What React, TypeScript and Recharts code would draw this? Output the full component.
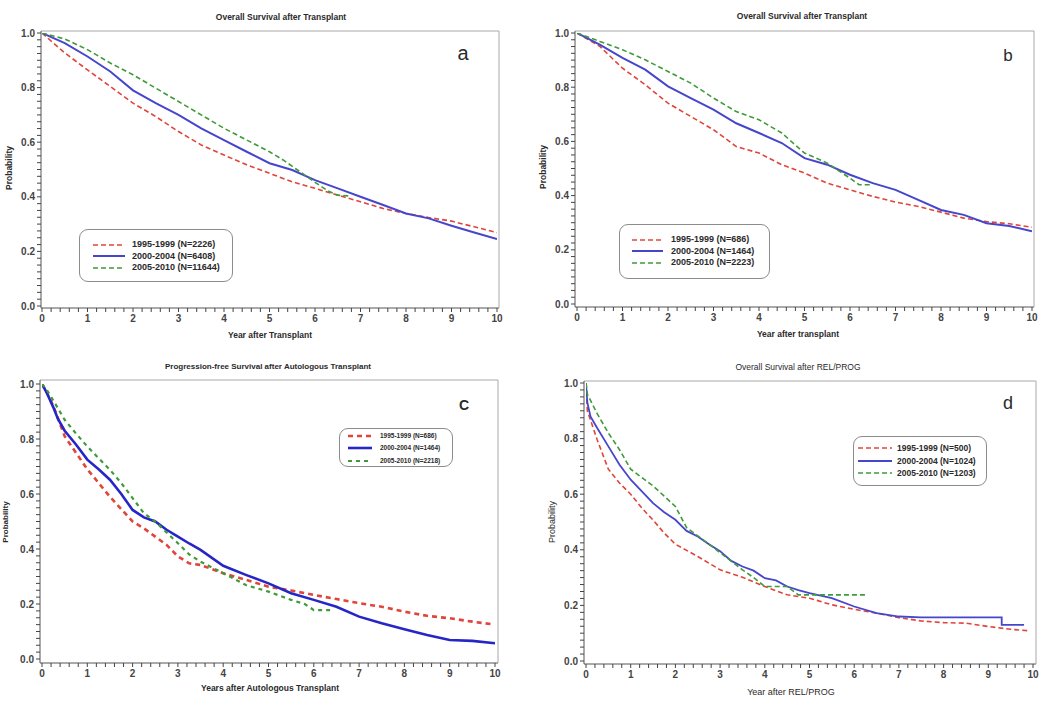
import React from 'react';
import { LineChart, Line, XAxis, YAxis, Legend } from 'recharts';

const FONT = '"Liberation Sans", Arial, Helvetica, sans-serif';

const RED = '#e0453a';
const BLUE = '#4646cc';
const BLUE_C = '#2626c8';
const GREEN = '#3f9a3a';
const TICK = 4;

// tick labels
const xMajorLabels = [0, 1, 2, 3, 4, 5, 6, 7, 8, 9, 10];
const yMajorLabels = [0, 0.2, 0.4, 0.6, 0.8, 1.0];
const xTicks = Array.from({ length: 51 }, (_, i) => Math.round(i * 2) / 10);
const yTicks = Array.from({ length: 41 }, (_, i) => Math.round(i * 25) / 1000);

// panel a
const aYears = [0, 0.5, 1, 1.5, 2, 2.5, 3, 3.5, 4, 4.5, 5, 5.5, 6, 6.5, 7, 7.5, 8, 8.5, 9, 9.5, 10];
const aRed = [1.0, 0.927, 0.865, 0.804, 0.743, 0.694, 0.639, 0.59, 0.553, 0.517, 0.486, 0.455, 0.431, 0.406, 0.382, 0.357, 0.339, 0.324, 0.311, 0.29, 0.269];
const aBlue = [1.0, 0.963, 0.914, 0.859, 0.79, 0.743, 0.7, 0.651, 0.608, 0.565, 0.523, 0.498, 0.461, 0.431, 0.4, 0.37, 0.339, 0.321, 0.294, 0.269, 0.245];
const aGreenYears = [0, 0.5, 1, 1.5, 2, 2.5, 3, 3.5, 4, 4.5, 5, 5.3, 5.6, 6, 6.3, 6.5, 6.77];
const aGreen = [1.0, 0.978, 0.939, 0.89, 0.847, 0.798, 0.749, 0.7, 0.651, 0.608, 0.565, 0.535, 0.5, 0.453, 0.42, 0.406, 0.403];

// panel b
const bYears = [0, 0.5, 1, 1.5, 2, 2.5, 3, 3.5, 4, 4.5, 5, 5.5, 6, 6.5, 7, 7.5, 8, 8.5, 9, 9.5, 10];
const bRed = [1.0, 0.951, 0.87, 0.809, 0.741, 0.692, 0.643, 0.581, 0.557, 0.514, 0.483, 0.446, 0.421, 0.397, 0.376, 0.36, 0.339, 0.317, 0.304, 0.296, 0.283];
const bBlue = [1.0, 0.957, 0.908, 0.865, 0.803, 0.76, 0.717, 0.667, 0.631, 0.594, 0.538, 0.514, 0.477, 0.446, 0.421, 0.384, 0.347, 0.329, 0.298, 0.288, 0.268];
const bGreenYears = [0, 0.5, 1, 1.5, 2, 2.5, 3, 3.5, 4, 4.5, 5, 5.5, 6, 6.2, 6.44];
const bGreen = [1.0, 0.969, 0.938, 0.901, 0.858, 0.815, 0.76, 0.71, 0.68, 0.631, 0.557, 0.52, 0.464, 0.44, 0.44];

// panel c
const cRedYears = [0, 0.1, 0.25, 0.5, 0.75, 1, 1.25, 1.5, 1.75, 2, 2.25, 2.5, 2.75, 3, 3.25, 3.5, 4, 4.5, 5, 5.5, 6, 6.5, 7, 7.5, 8, 8.5, 9, 9.5, 9.9];
const cRed = [1.0, 0.97, 0.92, 0.81, 0.75, 0.69, 0.64, 0.59, 0.545, 0.5, 0.475, 0.445, 0.415, 0.373, 0.348, 0.342, 0.312, 0.288, 0.263, 0.249, 0.233, 0.218, 0.203, 0.19, 0.172, 0.157, 0.148, 0.136, 0.127];
const cBlueYears = [0, 0.1, 0.25, 0.35, 0.5, 0.75, 1, 1.25, 1.5, 1.75, 2, 2.25, 2.5, 2.75, 3, 3.25, 3.5, 4, 4.5, 5, 5.5, 6, 6.5, 7, 7.5, 8, 8.5, 9, 9.5, 10];
const cBlue = [1.0, 0.97, 0.915, 0.874, 0.83, 0.78, 0.725, 0.69, 0.652, 0.6, 0.542, 0.515, 0.5, 0.47, 0.445, 0.42, 0.397, 0.339, 0.306, 0.275, 0.239, 0.215, 0.19, 0.154, 0.13, 0.108, 0.087, 0.069, 0.066, 0.057];
const cGreenYears = [0, 0.1, 0.25, 0.5, 0.75, 1, 1.25, 1.5, 1.75, 2, 2.25, 2.5, 2.75, 3, 3.25, 3.5, 4, 4.5, 5, 5.5, 5.8, 6, 6.4];
const cGreen = [1.0, 0.98, 0.94, 0.87, 0.82, 0.773, 0.73, 0.688, 0.64, 0.585, 0.53, 0.5, 0.46, 0.421, 0.38, 0.354, 0.312, 0.269, 0.245, 0.215, 0.2, 0.178, 0.178];

// panel d
const dRedYears = [0, 0.03, 0.25, 0.5, 0.75, 1, 1.25, 1.5, 1.75, 2, 2.5, 3, 3.5, 4, 4.5, 5, 5.5, 6, 6.5, 7, 7.5, 8, 8.5, 9, 9.5, 9.9];
const dRed = [1.0, 0.9, 0.796, 0.69, 0.64, 0.6, 0.55, 0.507, 0.46, 0.42, 0.376, 0.328, 0.301, 0.268, 0.238, 0.226, 0.202, 0.186, 0.172, 0.156, 0.144, 0.138, 0.136, 0.124, 0.114, 0.109];
const dBlueYears = [0, 0.03, 0.1, 0.25, 0.5, 0.75, 1, 1.25, 1.5, 1.75, 2, 2.25, 2.5, 2.75, 3, 3.25, 3.5, 3.75, 4, 4.25, 4.5, 4.75, 5, 5.5, 6, 6.5, 7, 7.5, 8, 8.5, 9, 9.3, 9.3, 9.8];
const dBlue = [1.0, 0.93, 0.88, 0.838, 0.772, 0.706, 0.652, 0.61, 0.568, 0.535, 0.508, 0.468, 0.448, 0.42, 0.395, 0.36, 0.34, 0.325, 0.298, 0.29, 0.268, 0.255, 0.244, 0.226, 0.196, 0.172, 0.16, 0.157, 0.157, 0.157, 0.157, 0.157, 0.13, 0.13];
const dGreenYears = [0, 0.03, 0.25, 0.5, 0.75, 1, 1.5, 2, 2.25, 2.5, 3, 3.5, 3.75, 4, 4.5, 4.75, 5, 5.5, 6, 6.25];
const dGreen = [1.0, 0.96, 0.89, 0.82, 0.76, 0.69, 0.63, 0.556, 0.48, 0.45, 0.39, 0.328, 0.3, 0.268, 0.268, 0.238, 0.238, 0.238, 0.238, 0.238];

type Series = { name: string; xs: number[]; ys: number[]; color: string; width: number; dash?: string };
type LegendSpec = { left: number; top: number; w: number; h: number; padTop: number; rowH: number; sampleLeft: number; sampleW: number; gap: number; fontSize: number };

const toPoints = (xs: number[], ys: number[]) => xs.map((x, i) => ({ x, y: ys[i] }));

// minor ticks keep their tick line but get an empty label
const fmtX = (v: number) => (xMajorLabels.includes(v) ? String(v) : '');
const fmtY = (v: number) => (yMajorLabels.some((m) => Math.abs(m - v) < 1e-6) ? v.toFixed(1) : '');
const tickStyle = { fontSize: 10, fontWeight: 'bold', fill: '#444', fontFamily: FONT };

const LegendBox = ({ spec, series }: { spec: LegendSpec; series: Series[] }) => (
  <div
    style={{
      width: spec.w,
      height: spec.h,
      boxSizing: 'border-box',
      border: '1.5px solid #8c8c8c',
      borderRadius: 9,
      background: '#fff',
      paddingTop: spec.padTop,
      fontFamily: FONT,
      fontWeight: 'bold',
      fontSize: spec.fontSize,
      color: '#2a2a2a',
    }}
  >
    {series.map((s) => (
      <div key={s.name} style={{ display: 'flex', alignItems: 'center', height: spec.rowH, paddingLeft: spec.sampleLeft }}>
        <svg width={spec.sampleW} height={6} style={{ flex: 'none' }}>
          <line x1={0} x2={spec.sampleW} y1={3} y2={3} stroke={s.color} strokeWidth={s.width} strokeDasharray={s.dash} />
        </svg>
        <span style={{ marginLeft: spec.gap, whiteSpace: 'nowrap', lineHeight: 1 }}>{s.name}</span>
      </div>
    ))}
  </div>
);

type PanelProps = {
  left: number;
  top: number;
  width: number;
  height: number;
  margin: { top: number; right: number; bottom: number; left: number };
  yAxisWidth: number;
  xAxisHeight: number;
  padX: { left: number; right: number };
  padY: { top: number; bottom: number };
  series: Series[];
  legend: LegendSpec;
};

// the frame's top and right sides are drawn by a second pair of axes 1px thick,
// so the margins passed in are already reduced by that pixel
const Panel = ({ left, top, width, height, margin, yAxisWidth, xAxisHeight, padX, padY, series, legend }: PanelProps) => (
  <div style={{ position: 'absolute', left, top, width, height }}>
    <LineChart width={width} height={height} margin={{ ...margin, top: margin.top - 1, right: margin.right - 1 }}>
      <XAxis
        dataKey="x"
        type="number"
        domain={[0, 10]}
        ticks={xTicks}
        interval={0}
        height={xAxisHeight}
        padding={padX}
        tickSize={TICK}
        tickMargin={3}
        tickLine={{ stroke: '#444' }}
        tickFormatter={fmtX}
        tick={tickStyle}
        axisLine={{ stroke: '#555' }}
        allowDataOverflow
      />
      <XAxis xAxisId="top" orientation="top" type="number" domain={[0, 10]} height={1} padding={padX} tick={false} tickLine={false} axisLine={{ stroke: '#a8a8a8' }} />
      <YAxis
        type="number"
        domain={[0, 1]}
        ticks={yTicks}
        interval={0}
        width={yAxisWidth}
        padding={padY}
        tickSize={TICK}
        tickMargin={2}
        tickLine={{ stroke: '#444' }}
        tickFormatter={fmtY}
        tick={tickStyle}
        axisLine={{ stroke: '#555' }}
        allowDataOverflow
      />
      <YAxis yAxisId="right" orientation="right" type="number" domain={[0, 1]} width={1} padding={padY} tick={false} tickLine={false} axisLine={{ stroke: '#a8a8a8' }} />
      {series.map((s) => (
        <Line
          key={s.name}
          data={toPoints(s.xs, s.ys)}
          dataKey="y"
          name={s.name}
          type="linear"
          stroke={s.color}
          strokeWidth={s.width}
          strokeDasharray={s.dash}
          dot={false}
          activeDot={false}
          isAnimationActive={false}
        />
      ))}
      <Legend
        layout="vertical"
        align="center"
        verticalAlign="middle"
        wrapperStyle={{ left: legend.left, top: legend.top, width: legend.w, height: legend.h }}
        content={() => <LegendBox spec={legend} series={series} />}
      />
    </LineChart>
  </div>
);

const Text = ({ x, y, size, children, rotate, weight = 'bold' }: { x: number; y: number; size: number; children: React.ReactNode; rotate?: boolean; weight?: string }) => (
  <div
    style={{
      position: 'absolute',
      left: x,
      top: y,
      transform: `translate(-50%, -50%)${rotate ? ' rotate(-90deg)' : ''}`,
      fontFamily: FONT,
      fontSize: size,
      fontWeight: weight as any,
      color: '#2a2a2a',
      whiteSpace: 'nowrap',
      lineHeight: 1,
    }}
  >
    {children}
  </div>
);

const seriesA: Series[] = [
  { name: '1995-1999 (N=2226)', xs: aYears, ys: aRed, color: RED, width: 1.6, dash: '5 3' },
  { name: '2000-2004 (N=6408)', xs: aYears, ys: aBlue, color: BLUE, width: 2, dash: undefined },
  { name: '2005-2010 (N=11644)', xs: aGreenYears, ys: aGreen, color: GREEN, width: 1.6, dash: '5 3' },
];
const seriesB: Series[] = [
  { name: '1995-1999 (N=686)', xs: bYears, ys: bRed, color: RED, width: 1.6, dash: '5 3' },
  { name: '2000-2004 (N=1464)', xs: bYears, ys: bBlue, color: BLUE, width: 2, dash: undefined },
  { name: '2005-2010 (N=2223)', xs: bGreenYears, ys: bGreen, color: GREEN, width: 1.6, dash: '5 3' },
];
const seriesC: Series[] = [
  { name: '1995-1999 (N=686)', xs: cRedYears, ys: cRed, color: RED, width: 2.6, dash: '5 4' },
  { name: '2000-2004 (N=1464)', xs: cBlueYears, ys: cBlue, color: BLUE_C, width: 2.6, dash: undefined },
  { name: '2005-2010 (N=2218)', xs: cGreenYears, ys: cGreen, color: GREEN, width: 2.2, dash: '4 4' },
];
const seriesD: Series[] = [
  { name: '1995-1999 (N=500)', xs: dRedYears, ys: dRed, color: RED, width: 1.6, dash: '5 3' },
  { name: '2000-2004 (N=1024)', xs: dBlueYears, ys: dBlue, color: BLUE, width: 1.8, dash: undefined },
  { name: '2005-2010 (N=1203)', xs: dGreenYears, ys: dGreen, color: GREEN, width: 1.6, dash: '5 3' },
];

export default function App() {
  return (
    <div style={{ position: 'absolute', left: 0, top: 0, width: 1050, height: 711, background: '#fff', overflow: 'hidden' }}>
      <Panel
        left={0}
        top={0}
        width={525}
        height={340}
        margin={{ top: 31, right: 26, bottom: 0, left: 0 }}
        yAxisWidth={41}
        xAxisHeight={32}
        padX={{ left: 1, right: 2 }}
        padY={{ top: 2, bottom: 2 }}
        series={seriesA}
        legend={{ left: 79, top: 229, w: 154, h: 53, padTop: 9, rowH: 11.5, sampleLeft: 13, sampleW: 32, gap: 7, fontSize: 9 }}
      />
      <Panel
        left={525}
        top={0}
        width={525}
        height={340}
        margin={{ top: 31, right: 16, bottom: 0, left: 0 }}
        yAxisWidth={50}
        xAxisHeight={33}
        padX={{ left: 2, right: 2 }}
        padY={{ top: 2, bottom: 3 }}
        series={seriesB}
        legend={{ left: 94, top: 224, w: 151, h: 55, padTop: 9, rowH: 11.5, sampleLeft: 12, sampleW: 31, gap: 8, fontSize: 9 }}
      />
      <Panel
        left={0}
        top={340}
        width={525}
        height={371}
        margin={{ top: 40, right: 27, bottom: 0, left: 0 }}
        yAxisWidth={40}
        xAxisHeight={48}
        padX={{ left: 2, right: 3 }}
        padY={{ top: 4, bottom: 4 }}
        series={seriesC}
        legend={{ left: 339, top: 88, w: 114, h: 39, padTop: 0.5, rowH: 12.5, sampleLeft: 8, sampleW: 24, gap: 8, fontSize: 6.5 }}
      />
      <Panel
        left={525}
        top={340}
        width={525}
        height={371}
        margin={{ top: 41, right: 14, bottom: 0, left: 0 }}
        yAxisWidth={59}
        xAxisHeight={47}
        padX={{ left: 2, right: 3 }}
        padY={{ top: 2, bottom: 3 }}
        series={seriesD}
        legend={{ left: 328, top: 96, w: 134, h: 50, padTop: 5, rowH: 12.5, sampleLeft: 4, sampleW: 34, gap: 5, fontSize: 8.5 }}
      />

      <Text x={281} y={17} size={8.5}>Overall Survival after Transplant</Text>
      <Text x={802} y={16} size={8.5}>Overall Survival after Transplant</Text>
      <Text x={268} y={367} size={8}>Progression-free Survival after Autologous Transplant</Text>
      <Text x={798} y={367} size={8.5} weight="normal">Overall Survival after REL/PROG</Text>

      <Text x={270} y={335} size={8.5}>Year after Transplant</Text>
      <Text x={798} y={334} size={8.5}>Year after transplant</Text>
      <Text x={270} y={688} size={8.5}>Years after Autologous Transplant</Text>
      <Text x={791} y={692} size={9} weight="normal">Year after REL/PROG</Text>

      <Text x={9} y={168} size={8.5} rotate>Probability</Text>
      <Text x={543} y={167} size={8.5} rotate>Probability</Text>
      <Text x={6} y={522} size={8} rotate>Probability</Text>
      <Text x={552} y={522} size={9} rotate weight="normal">Probability</Text>

      <Text x={463} y={53} size={20} weight="normal">a</Text>
      <Text x={1008} y={55} size={17} weight="normal">b</Text>
      <Text x={464} y={405} size={14}>C</Text>
      <Text x={1008} y={403} size={18} weight="normal">d</Text>
    </div>
  );
}
